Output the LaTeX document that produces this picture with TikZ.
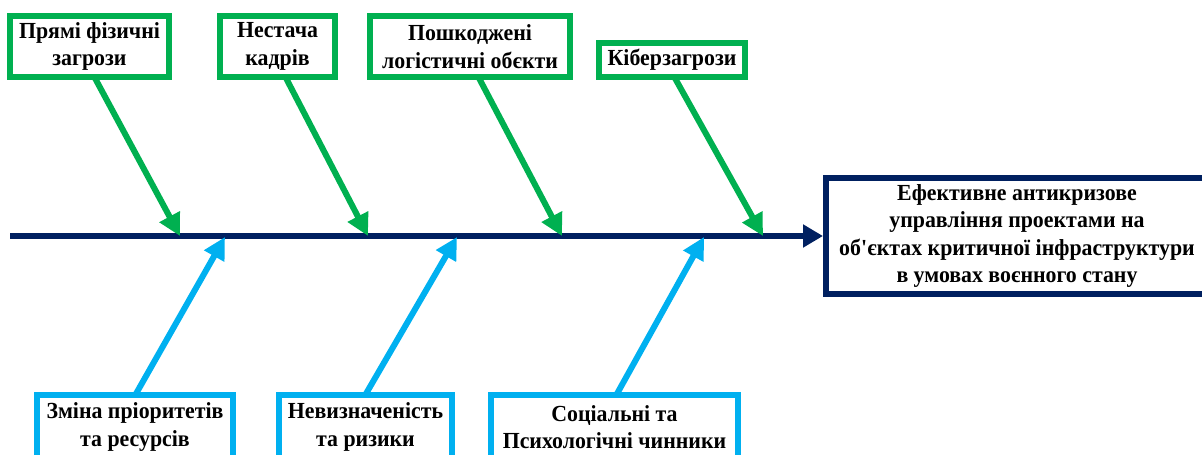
\documentclass[tikz,border=0pt]{standalone}
\usepackage{fontspec}
\setmainfont{Liberation Serif}[FakeStretch=0.95]
\usetikzlibrary{arrows.meta}
\definecolor{branchgreen}{HTML}{00B050}
\definecolor{branchblue}{HTML}{00B0F0}
\definecolor{spinenavy}{HTML}{002060}

\begin{document}
\begin{tikzpicture}[x=1pt,y=-1pt,
  causebox/.style={draw, line width=6pt, fill=white, inner sep=0pt, align=center,
    font=\fontsize{23}{27.5}\selectfont\bfseries},
  topcause/.style={causebox, draw=branchgreen},
  lowcause/.style={causebox, draw=branchblue},
  goalbox/.style={causebox, draw=spinenavy},
  branch/.style={line width=6pt, -{Triangle[length=22pt,width=22pt]}, shorten <=-3pt},
  spine/.style={line width=6pt, color=spinenavy, -{Triangle[length=20pt,width=22pt]}}
]
\useasboundingbox (0,0) rectangle (1202,455);

% effect box at the head of the spine
\node[goalbox, minimum width=382pt, minimum height=116pt] (goal) at (1017,236)
  {Ефективне антикризове\\управління проектами на\\об\textquotesingle єктах критичної інфраструктури\\в умовах воєнного стану};

% upper causes
\node[topcause, minimum width=159pt, minimum height=61pt] (c1) at (89.5,46.5) {Прямі фізичні\\загрози};
\node[topcause, minimum width=115pt, minimum height=61pt] (c2) at (277.5,46.5) {Нестача\\кадрів};
\node[topcause, minimum width=200pt, minimum height=61pt] (c3) at (470,46.5) {Пошкоджені\\логістичні обєкти};
\node[topcause, minimum width=146pt, minimum height=34pt] (c4) at (672,60) {Кіберзагрози};

% lower causes
\node[lowcause, minimum width=196pt, minimum height=64pt] (d1) at (135,427) {Зміна пріоритетів\\та ресурсів};
\node[lowcause, minimum width=173pt, minimum height=64pt] (d2) at (365.5,427) {Невизначеність\\та ризики};
\node[lowcause, minimum width=247pt, minimum height=64pt] (d3) at (614.5,427) {Соціальні та\\Психологічні чинники};

% spine
\coordinate (tail) at (10,236);
\draw[spine] (tail) -- (goal.west);

% points where the branches meet the spine
\coordinate (g1) at (180,236);
\coordinate (g2) at (368,236);
\coordinate (g3) at (562,236);
\coordinate (g4) at (763,236);
\coordinate (h1) at (225,237);
\coordinate (h2) at (457,237);
\coordinate (h3) at (704,237);

% branches
\draw[branch, color=branchgreen] ([xshift=6.5pt]c1.south) -- (g1);
\draw[branch, color=branchgreen] ([xshift=9.5pt]c2.south) -- (g2);
\draw[branch, color=branchgreen] ([xshift=10pt]c3.south) -- (g3);
\draw[branch, color=branchgreen] ([xshift=4pt]c4.south) -- (g4);
\draw[branch, color=branchblue] ([xshift=2pt]d1.north) -- (h1);
\draw[branch, color=branchblue] ([xshift=1.5pt]d2.north) -- (h2);
\draw[branch, color=branchblue] ([xshift=3.5pt]d3.north) -- (h3);
\end{tikzpicture}
\end{document}
